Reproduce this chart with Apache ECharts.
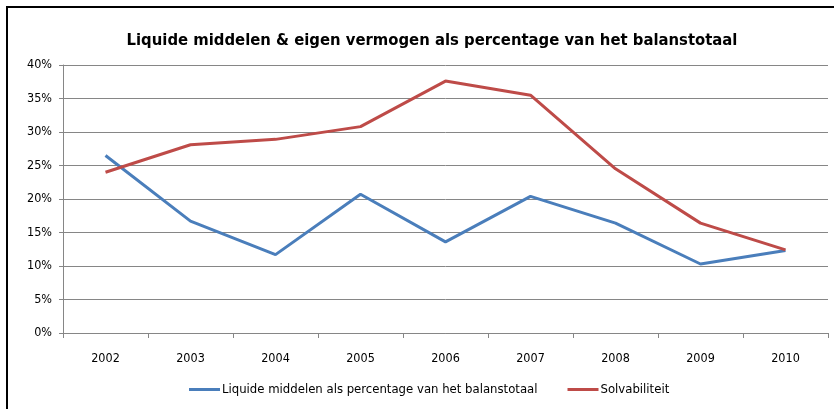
<!DOCTYPE html>
<html><head><meta charset="utf-8">
<script src="https://cdn.jsdelivr.net/npm/echarts@6/dist/echarts.min.js"></script>
<style>html,body{margin:0;padding:0;background:#fff}#c{width:834px;height:409px}</style>
</head><body><div id="c"></div>
<script>
const categories = ['2002','2003','2004','2005','2006','2007','2008','2009','2010'];
const liquide = [26.5, 16.7, 11.7, 20.7, 13.6, 20.4, 16.4, 10.3, 12.3];
const solvabiliteit = [24.0, 28.1, 28.9, 30.8, 37.6, 35.5, 24.5, 16.4, 12.4];
const yTicks = [0,5,10,15,20,25,30,35,40];
const seriesNames = ['Liquide middelen als percentage van het balanstotaal','Solvabiliteit'];
const FONT = '"Liberation Sans Narrow", "DejaVu Sans Condensed", "Open Sans", sans-serif';
const chart = echarts.init(document.getElementById('c'), null, {renderer:'canvas'});
chart.setOption({
  animation:false,
  backgroundColor:'#fff',
  graphic:[{type:'rect',shape:{x:7,y:7,width:900,height:500},style:{fill:'none',stroke:'#000',lineWidth:2},z:100}],
  title:{text:'Liquide middelen & eigen vermogen als percentage van het balanstotaal',left:427,textAlign:'center',top:27,
    textStyle:{fontFamily:FONT,fontWeight:'bold',fontSize:16.5,color:'#000'}},
  grid:{left:63,right:6,top:65,bottom:76},
  legend:{bottom:8,left:184,itemWidth:31,itemHeight:3,itemGap:30,icon:'rect',
    textStyle:{fontFamily:FONT,fontSize:13,color:'#000',padding:[0,0,0,-3]},data:seriesNames},
  xAxis:{type:'category',data:categories,boundaryGap:true,
    axisLine:{lineStyle:{color:'#868686'}},
    axisTick:{show:true,inside:false,length:5,lineStyle:{color:'#868686'}},
    axisLabel:{fontFamily:FONT,fontSize:12.5,color:'#000',margin:19}},
  yAxis:{type:'value',min:yTicks[0],max:yTicks[yTicks.length-1],interval:5,
    axisLine:{show:true,lineStyle:{color:'#868686'}},
    axisTick:{show:true,length:4,lineStyle:{color:'#868686'}},
    splitLine:{lineStyle:{color:'#868686',width:1}},
    axisLabel:{fontFamily:FONT,fontSize:12.5,color:'#000',margin:11,formatter:v=>v+'%'}},
  series:[
    {name:seriesNames[0],type:'line',data:liquide,symbol:'none',lineStyle:{color:'#4A7EBB',width:3},itemStyle:{color:'#4A7EBB'}},
    {name:seriesNames[1],type:'line',data:solvabiliteit,symbol:'none',lineStyle:{color:'#BE4B48',width:3},itemStyle:{color:'#BE4B48'}}
  ]
});
</script></body></html>
